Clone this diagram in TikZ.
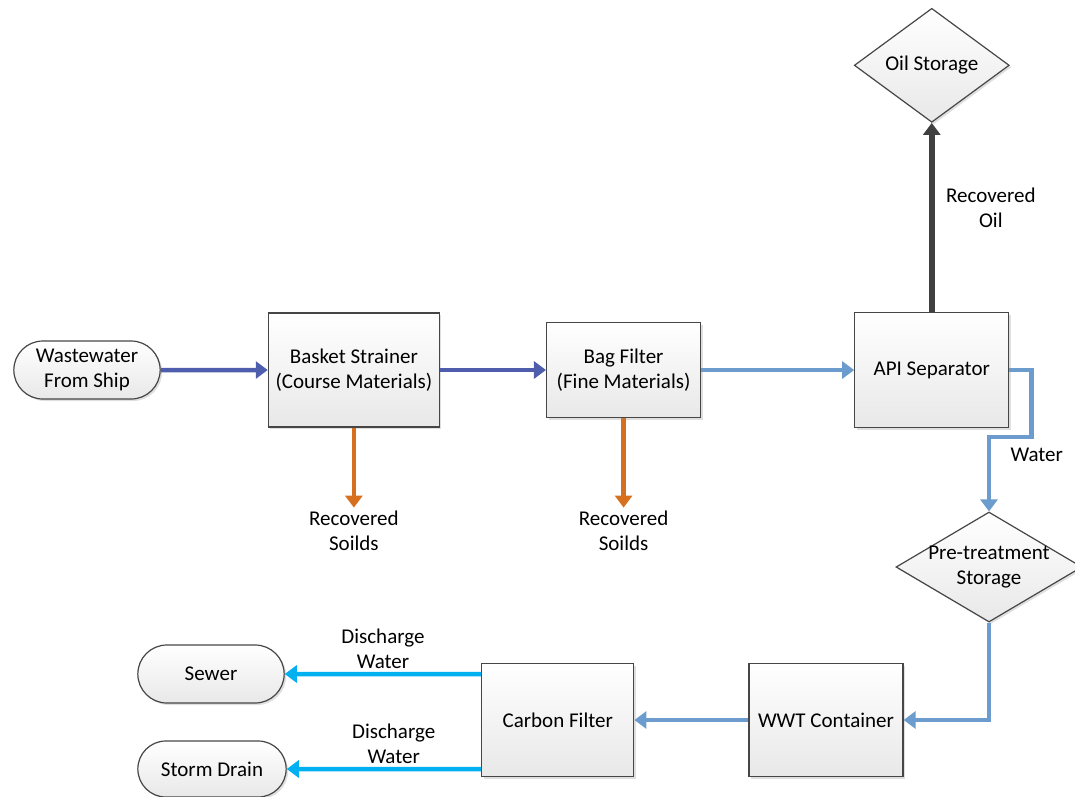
\documentclass[tikz,border=0pt]{standalone}
\usepackage{fontspec}
\setmainfont{Carlito}
\usetikzlibrary{shapes, arrows.meta, positioning, shadows}

\definecolor{boxedge}{RGB}{70,70,70}
\definecolor{boxfill}{RGB}{232,232,232}
\definecolor{darkflow}{RGB}{78,94,172}
\definecolor{lightflow}{RGB}{108,155,205}
\definecolor{dischargeflow}{RGB}{0,176,240}
\definecolor{soilflow}{RGB}{214,112,30}
\definecolor{oilflow}{RGB}{64,64,64}

\begin{document}
\begin{tikzpicture}[x=1pt, y=-1pt, auto, align=center,
        font=\fontsize{21}{25}\selectfont,
        process/.style={rectangle, draw=boxedge, line width=1.2pt, top color=white, bottom color=boxfill,
            drop shadow={opacity=0.25, shadow xshift=2pt, shadow yshift=-2pt},
            minimum width=154pt, minimum height=113pt},
        terminal/.style={rounded rectangle, draw=boxedge, line width=1.2pt, top color=white, bottom color=boxfill,
            drop shadow={opacity=0.25, shadow xshift=2pt, shadow yshift=-2pt},
            minimum width=153pt, minimum height=58pt},
        storage/.style={diamond, draw=boxedge, line width=1.2pt, top color=white, bottom color=boxfill,
            drop shadow={opacity=0.25, shadow xshift=2pt, shadow yshift=-2pt}, inner sep=-6pt},
        line/.style={draw, -{Triangle[width=17pt, length=12pt]}, line width=4.5pt}
    ]
        \useasboundingbox (0,0) rectangle (1075,796);
        % Top row
        \node[terminal] (ship) at (87,370) {Wastewater\\From Ship};
        \node[process, right=107pt of ship, minimum width=171pt, minimum height=114pt] (strainer) {Basket Strainer\\(Course Materials)};
        \node[process, right=106pt of strainer, minimum height=95pt] (bag) {Bag Filter\\(Fine Materials)};
        \node[process, right=153pt of bag, minimum height=115pt] (api) {API Separator};
        \node[storage, above=189pt of api, minimum width=155pt, minimum height=114pt] (oil) {Oil Storage};
        \node[below=80pt of strainer] (soils1) {Recovered\\Soilds};
        \node at (bag |- soils1) (soils2) {Recovered\\Soilds};
        % Bottom row
        \node[storage, aspect=1.7, minimum width=186pt, minimum height=110pt] (pretreat) at (989,567) {Pre-treatment\\Storage};
        \node[process] (wwt) at (826,720) {WWT Container};
        \node[process, left=114pt of wwt, minimum width=152pt] (carbon) {Carbon Filter};
        \node[terminal] (sewer) at (211,674) {Sewer};
        \node[terminal, minimum width=155pt, minimum height=56pt] (drain) at (212,769) {Storm Drain};
        % Connections
        \path[line, darkflow] (ship) -- (strainer);
        \path[line, darkflow] (strainer) -- (bag);
        \path[line, lightflow] (bag) -- (api);
        \path[line, oilflow, line width=6pt] (api) -- node[pos=0.55, right=8pt, text=black] {Recovered\\Oil} (oil);
        \path[line, soilflow] (strainer) -- (soils1);
        \path[line, soilflow] (bag) -- (soils2);
        \path[line, lightflow] (api.east) -- ++(22,0) -- ++(0,67) -| node[pos=0.62, right=16pt, text=black] {Water} (pretreat.north);
        \path[line, lightflow] (pretreat.south) |- (wwt.east);
        \path[line, lightflow] (wwt) -- (carbon);
        \path[line, dischargeflow] (carbon.west |- sewer) -- node[above, text=black] {Discharge\\Water} (sewer);
        \path[line, dischargeflow] (carbon.west |- drain) -- node[pos=0.45, above, text=black] {Discharge\\Water} (drain);
    \end{tikzpicture}
\end{document}
